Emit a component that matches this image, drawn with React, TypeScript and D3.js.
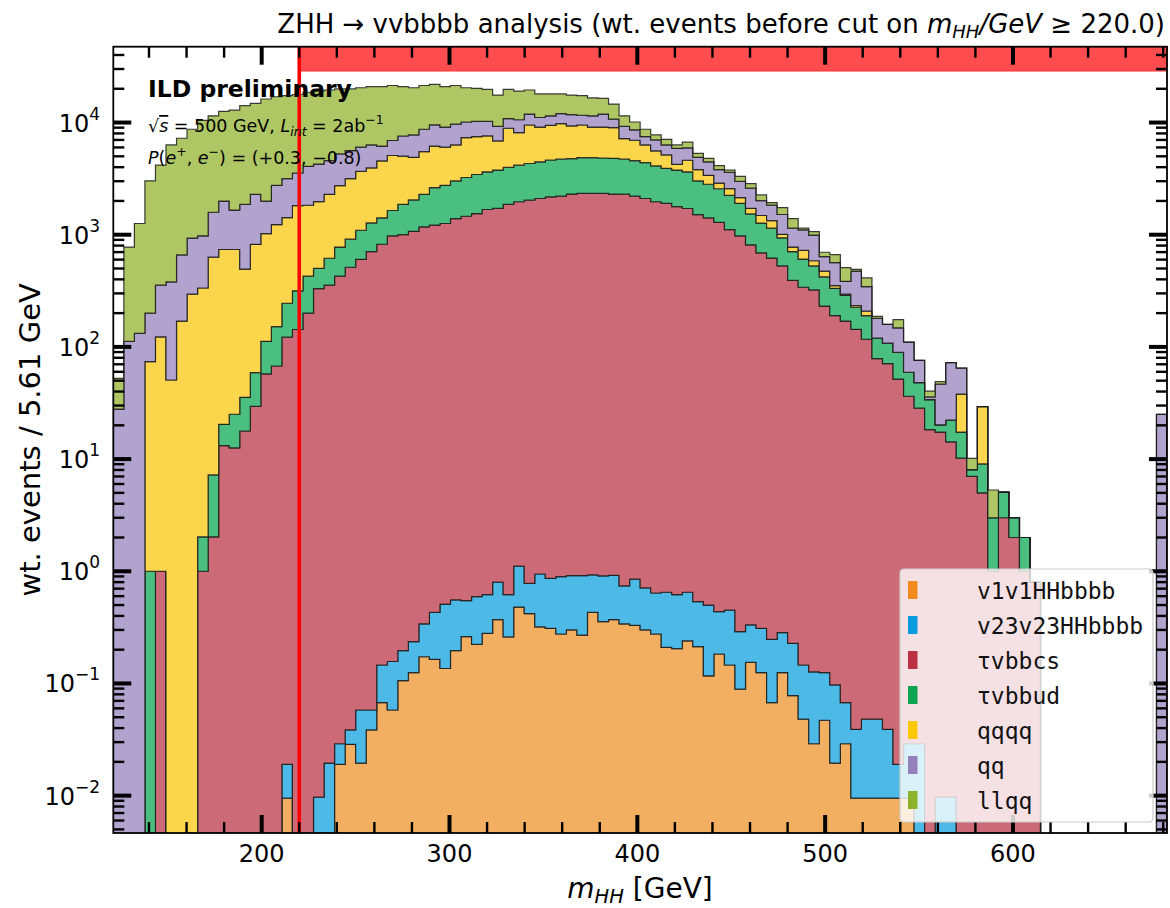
import React from "react";
import * as d3 from "d3";

// Histogram binning (m_HH in GeV)
const BIN_MIN = 121.0;
const BIN_WIDTH = 5.61;
const N_BINS = 100;
const CUT_VALUE = 220.0;

// Weighted events per bin, one array per process (100 bins each)
const v1v1HHbbbb = [
  0, 0, 0, 0, 0, 0, 0, 0, 0, 0,
  0, 0, 0, 0, 0, 0, 0.0095, 0, 0, 0,
  0, 0.019, 0.0287, 0.0195, 0.0385, 0.0675, 0.058, 0.106, 0.125, 0.173,
  0.164, 0.136, 0.196, 0.261, 0.223, 0.28, 0.37, 0.26, 0.48, 0.42,
  0.32, 0.31, 0.276, 0.3, 0.27, 0.43, 0.356, 0.37, 0.34, 0.33,
  0.3, 0.276, 0.21, 0.204, 0.24, 0.213, 0.117, 0.183, 0.146, 0.089,
  0.154, 0.125, 0.0676, 0.125, 0.078, 0.048, 0.029, 0.047, 0.0195, 0.029,
  0.0095, 0.0095, 0.0095, 0.0095, 0.0095, 0.0095, 0, 0, 0, 0,
  0, 0, 0, 0, 0, 0, 0, 0, 0, 0,
  0, 0, 0, 0, 0, 0, 0, 0, 0, 0,
];

const v23v23HHbbbb = [
  0, 0, 0, 0, 0, 0, 0, 0, 0, 0,
  0, 0, 0, 0, 0, 0, 0.0095, 0, 0, 0.0097,
  0.0195, 0.01, 0.0098, 0.0385, 0.0195, 0.0785, 0.099, 0.09, 0.111, 0.167,
  0.266, 0.374, 0.359, 0.286, 0.371, 0.34, 0.43, 0.36, 0.63, 0.36,
  0.626, 0.555, 0.619, 0.614, 0.644, 0.497, 0.554, 0.55, 0.4, 0.52,
  0.41, 0.364, 0.44, 0.416, 0.41, 0.324, 0.383, 0.253, 0.304, 0.201,
  0.179, 0.185, 0.18, 0.159, 0.15, 0.098, 0.098, 0.078, 0.0775, 0.0386,
  0.0295, 0.0385, 0.0385, 0.0295, 0.0095, 0.0195, 0.029, 0, 0.0097, 0.0097,
  0, 0, 0, 0, 0, 0, 0, 0, 0, 0,
  0, 0, 0, 0, 0, 0, 0, 0, 0, 0,
];

const tauvbbcs = [
  0, 0, 0, 0, 1.0, 0, 0, 0, 1.0, 2.03,
  13.2, 12.6, 17.8, 29.5, 57.5, 67.6, 122, 143, 200, 331,
  355, 427, 513, 603, 708, 822, 977, 1000, 1072, 1175,
  1219, 1258, 1392, 1461, 1544, 1678, 1713, 1861, 1967, 2031,
  2103, 2177, 2207, 2300, 2332, 2332, 2332, 2300, 2300, 2207,
  2103, 1967, 1900, 1777, 1713, 1513, 1412, 1288, 1109, 977,
  813, 689, 619, 527, 392, 340, 322, 231, 190, 170,
  143, 117, 78.7, 70.8, 51.6, 36.3, 28.4, 18.3, 17.4, 14.2,
  10.2, 7.0, 5.0, 1.0, 3.0, 2.0, 1.0, 0.8, 0, 0,
  0, 0, 0, 0, 0, 0, 0, 0, 0, 0,
];

const tauvbbud = [
  0, 0, 0, 1.0, 0, 0, 0, 0, 1.03, 5.2,
  7.2, 12.5, 17.7, 29.4, 54.7, 83.8, 123, 173, 227, 170,
  262, 349, 399, 493, 566, 591, 667, 862, 970, 1116,
  1411, 1495, 1627, 1774, 1898, 1960, 2053, 2119, 2201, 2283,
  2363, 2456, 2524, 2463, 2531, 2531, 2498, 2496, 2431, 2363,
  2281, 2134, 2007, 1989, 1925, 1506, 1405, 1282, 1130, 928,
  718, 582, 524, 411, 316, 267, 205, 190, 143, 118,
  83, 73, 41.3, 37.2, 37.7, 23.1, 19.7, 15.6, 2.8, 8.0,
  7.2, 1.06, 4.05, 2.0, 2.07, 1.0, 1.0, 0, 0, 0,
  0, 0, 0, 0, 0, 0, 0, 0, 0, 0,
];

const qqqq = [
  0, 0, 0, 73, 122, 50.7, 170, 295, 333, 624,
  718, 713, 459, 763, 911, 1079, 1177, 1504, 1405, 1471,
  1674, 1959, 2250, 2568, 2662, 3137, 3438, 3150, 2856, 3204,
  3536, 3272, 3290, 4109, 4056, 3964, 3088, 4911, 3959, 5191,
  4653, 4807, 5040, 4569, 4642, 4256, 4289, 4219, 2462, 2379,
  1925, 1483, 1232, 479, 974, 782, 570, 314, 331, 233,
  187, 212, 191, 69, 68, 117, 59, 53, 19, 7,
  8, 18, 0, 0, 0, 0, 0, 0, 0, 0,
  20.6, 0, 20.3, 0, 0, 0, 0, 0, 0, 0,
  0, 0, 0, 0, 0, 0, 0, 0, 0, 0,
];

const qq = [
  27.9, 112, 132, 126, 232, 329, 491, 638, 642, 954,
  1257, 922, 1368, 1469, 972, 1524, 1740, 1728, 2242, 2294,
  2280, 2513, 2461, 2362, 2374, 1616, 1836, 2574, 2864, 3215,
  3384, 3094, 3351, 2771, 2734, 2630, 2371, 1947, 2465, 2379,
  1972, 2041, 2251, 2416, 2108, 2362, 2765, 1699, 2032, 1660,
  1189, 1413, 1170, 1642, 1344, 1096, 1079, 918, 1019, 847,
  882, 526, 498, 507, 367, 380, 407, 163, 213, 89,
  240, 137, 59.5, 50.5, 58.7, 51, 27.8, 1.9, 26.3, 50.1,
  26.6, 0, 0, 0, 0, 0, 0, 0, 0, 0,
  0, 0, 0, 0, 0, 0, 0, 0, 0, 25,
];

const llqq = [
  24.6, 664, 1127, 2820, 3814, 5930, 6583, 7777, 9493, 9897,
  10594, 11222, 12263, 12500, 14223, 14228, 14216, 14235, 14547, 14789,
  14927, 14705, 14330, 14391, 14583, 14727, 14462, 13307, 12655, 12670,
  12328, 11773, 11719, 10301, 9951, 9491, 8353, 8885, 8462, 7613,
  6897, 6507, 5966, 5830, 5764, 5114, 4521, 3907, 2256, 1506,
  1211, 764, 769, 422, 726, 411, 319, 319, 169, 326,
  251, 256, 104, 232, 250, 39, 74, 61, 100, 124,
  17, 67, 7.5, 0, 27, 0, 0, 4.6, 2.5, 0,
  0, 2.1, 0, 2.3, 0, 0, 0, 0, 0, 0,
  0, 0, 0, 0, 0, 0, 0, 0, 0, 0,
];

// Stacking order: bottom first
const SERIES = [
  { key: "v1v1HHbbbb", values: v1v1HHbbbb, fill: "#f3af61", handle: "#f28a1f" },
  { key: "v23v23HHbbbb", values: v23v23HHbbbb, fill: "#4db9e6", handle: "#0a9ddd" },
  { key: "τvbbcs", values: tauvbbcs, fill: "#cc6b77", handle: "#bb3043" },
  { key: "τvbbud", values: tauvbbud, fill: "#4bbf80", handle: "#0fa452" },
  { key: "qqqq", values: qqqq, fill: "#fbd54c", handle: "#fbc808" },
  { key: "qq", values: qq, fill: "#b1a2ce", handle: "#9480bc" },
  { key: "llqq", values: llqq, fill: "#aec764", handle: "#8db22c" },
];

const X_MAJOR_TICKS = [200, 300, 400, 500, 600];
const Y_DECADES = [-2, -1, 0, 1, 2, 3, 4];

const DEJAVU = "'DejaVu Sans', sans-serif";
const MONO = "'DejaVu Sans Mono', monospace";

export default function App() {
  const W = 1170;
  const H = 908;
  const L = 113.3;
  const R = 1167;
  const T = 46.7;
  const B = 833;

  const edges = d3.range(N_BINS + 1).map((i) => BIN_MIN + i * BIN_WIDTH);
  const x = d3.scaleLinear().domain([edges[0], edges[N_BINS]]).range([L, R]);
  const y = d3
    .scaleLog()
    .domain([Math.pow(10, -2.333), Math.pow(10, 4.676)])
    .range([B, T]);

  const keys = SERIES.map((s) => s.key);
  const rows = d3.range(N_BINS).map((i) => {
    const r: Record<string, number> = {};
    SERIES.forEach((s) => (r[s.key] = s.values[i]));
    return r;
  });
  const stacked = d3.stack<Record<string, number>>().keys(keys)(rows);

  const FLOOR = 1e-4;
  type P = { x: number; y0: number; y1: number };
  const area = d3
    .area<P>()
    .x((d) => x(d.x))
    .y0((d) => y(Math.max(d.y0, FLOOR)))
    .y1((d) => y(Math.max(d.y1, FLOOR)))
    .curve(d3.curveStepAfter);

  const layerPaths = stacked.map((layer) => {
    const pts: P[] = layer.map((d, i) => ({ x: edges[i], y0: d[0], y1: d[1] }));
    pts.push({ x: edges[N_BINS], y0: layer[N_BINS - 1][0], y1: layer[N_BINS - 1][1] });
    return area(pts) || "";
  });

  // tick geometry
  const xMinor = d3.range(140, edges[N_BINS], 20).filter((v) => !X_MAJOR_TICKS.includes(v));
  const yMinor: number[] = [];
  for (let k = -3; k <= 4; k++) {
    for (let m = 2; m <= 9; m++) {
      const v = m * Math.pow(10, k);
      const [lo, hi] = y.domain();
      if (v > lo && v < hi) yMinor.push(v);
    }
  }
  const MAJ_LEN = 18;
  const MIN_LEN = 11;
  const MAJ_W = 4;
  const MIN_W = 2.4;

  const xCut = x(CUT_VALUE);

  const legendX = 900;
  const legendY = 569;
  const legendW = 253;
  const legendH = 253;

  return (
    <svg
      width={W}
      height={H}
      style={{ position: "absolute", left: 0, top: 0, background: "#fff" }}
      fontFamily={DEJAVU}
    >
      <defs>
        <clipPath id="plotArea">
          <rect x={L} y={T} width={R - L} height={B - T} />
        </clipPath>
      </defs>

      {/* stacked histogram */}
      <g clipPath="url(#plotArea)">
        {layerPaths.map((p, i) => (
          <path
            key={SERIES[i].key}
            d={p}
            fill={SERIES[i].fill}
            stroke="#1c1c1c"
            strokeOpacity={0.85}
            strokeWidth={1.2}
          />
        ))}
      </g>

      {/* selected region marker */}
      <rect
        x={xCut}
        y={T}
        width={R - xCut}
        height={24.3}
        fill="#ff4d4f"
        stroke="#ff2f2f"
        strokeWidth={1}
      />
      <line x1={xCut} x2={xCut} y1={T} y2={B} stroke="#ff0000" strokeWidth={3.6} />

      {/* ticks */}
      <g stroke="#000">
        {X_MAJOR_TICKS.map((v) => (
          <g key={"xM" + v}>
            <line x1={x(v)} x2={x(v)} y1={B} y2={B - MAJ_LEN} strokeWidth={MAJ_W} />
            <line x1={x(v)} x2={x(v)} y1={T} y2={T + MAJ_LEN} strokeWidth={MAJ_W} />
          </g>
        ))}
        {xMinor.map((v) => (
          <g key={"xm" + v}>
            <line x1={x(v)} x2={x(v)} y1={B} y2={B - MIN_LEN} strokeWidth={MIN_W} />
            <line x1={x(v)} x2={x(v)} y1={T} y2={T + MIN_LEN} strokeWidth={MIN_W} />
          </g>
        ))}
        {Y_DECADES.map((k) => {
          const yy = y(Math.pow(10, k));
          return (
            <g key={"yM" + k}>
              <line x1={L} x2={L + MAJ_LEN} y1={yy} y2={yy} strokeWidth={MAJ_W} />
              <line x1={R} x2={R - MAJ_LEN} y1={yy} y2={yy} strokeWidth={MAJ_W} />
            </g>
          );
        })}
        {yMinor.map((v, i) => {
          const yy = y(v);
          return (
            <g key={"ym" + i}>
              <line x1={L} x2={L + MIN_LEN} y1={yy} y2={yy} strokeWidth={MIN_W} />
              <line x1={R} x2={R - MIN_LEN} y1={yy} y2={yy} strokeWidth={MIN_W} />
            </g>
          );
        })}
      </g>

      {/* frame */}
      <rect x={L} y={T} width={R - L} height={B - T} fill="none" stroke="#000" strokeWidth={1.8} />

      {/* tick labels */}
      <g fill="#000">
        {X_MAJOR_TICKS.map((v) => (
          <text key={"xl" + v} x={x(v)} y={862} fontSize={24} textAnchor="middle">
            {v}
          </text>
        ))}
        {Y_DECADES.map((k) => (
          <text key={"yl" + k} x={100} y={y(Math.pow(10, k)) + 9} fontSize={24} textAnchor="end">
            10
            <tspan dy={-12} fontSize={17}>
              {k < 0 ? "\u2212" + -k : String(k)}
            </tspan>
          </text>
        ))}
      </g>

      {/* axis titles */}
      <text x={640} y={898} textAnchor="middle" fontSize={28}>
        <tspan fontStyle="italic">m</tspan>
        <tspan fontStyle="italic" fontSize={19.5} dy={5}>
          HH
        </tspan>
        <tspan dy={-5}> [GeV]</tspan>
      </text>
      <text
        transform={`translate(40,${(T + B) / 2}) rotate(-90)`}
        textAnchor="middle"
        fontSize={29}
      >
        wt. events / 5.61 GeV
      </text>

      {/* title */}
      <text x={1165} y={33} textAnchor="end" fontSize={26}>
        ZHH → vvbbbb analysis (wt. events before cut on{" "}
        <tspan fontStyle="italic">m</tspan>
        <tspan fontStyle="italic" fontSize={18} dy={5}>
          HH
        </tspan>
        <tspan fontStyle="italic" dy={-5}>
          /GeV
        </tspan>
        <tspan> ≥ 220.0)</tspan>
      </text>

      {/* experiment label */}
      <text x={148} y={97} fontSize={23.5} fontWeight="bold">
        ILD preliminary
      </text>
      <text x={148} y={132} fontSize={17.5}>
        √<tspan fontStyle="italic" textDecoration="overline">s</tspan> = 500 GeV,{" "}
        <tspan fontStyle="italic">L</tspan>
        <tspan fontStyle="italic" fontSize={12.5} dy={4}>
          int
        </tspan>
        <tspan dy={-4}> = 2ab</tspan>
        <tspan fontSize={12.5} dy={-8}>
          −1
        </tspan>
      </text>
      <text x={148} y={164} fontSize={17.5}>
        <tspan fontStyle="italic">P</tspan>(<tspan fontStyle="italic">e</tspan>
        <tspan fontSize={12.5} dy={-8}>
          +
        </tspan>
        <tspan dy={8}>, </tspan>
        <tspan fontStyle="italic">e</tspan>
        <tspan fontSize={12.5} dy={-8}>
          −
        </tspan>
        <tspan dy={8}>) = (+0.3, −0.8)</tspan>
      </text>

      {/* legend */}
      <g>
        <rect
          x={legendX}
          y={legendY}
          width={legendW}
          height={legendH}
          rx={4}
          fill="#fff"
          fillOpacity={0.8}
          stroke="#cccccc"
          strokeWidth={1.2}
        />
        {SERIES.map((s, i) => {
          const cy = 590 + i * 35;
          return (
            <g key={"leg" + s.key}>
              <rect x={908} y={cy - 9} width={9.5} height={18} fill={s.handle} />
              <text x={977} y={cy + 8.5} fontSize={23} fontFamily={MONO} fill="#111">
                {s.key}
              </text>
            </g>
          );
        })}
      </g>
    </svg>
  );
}
